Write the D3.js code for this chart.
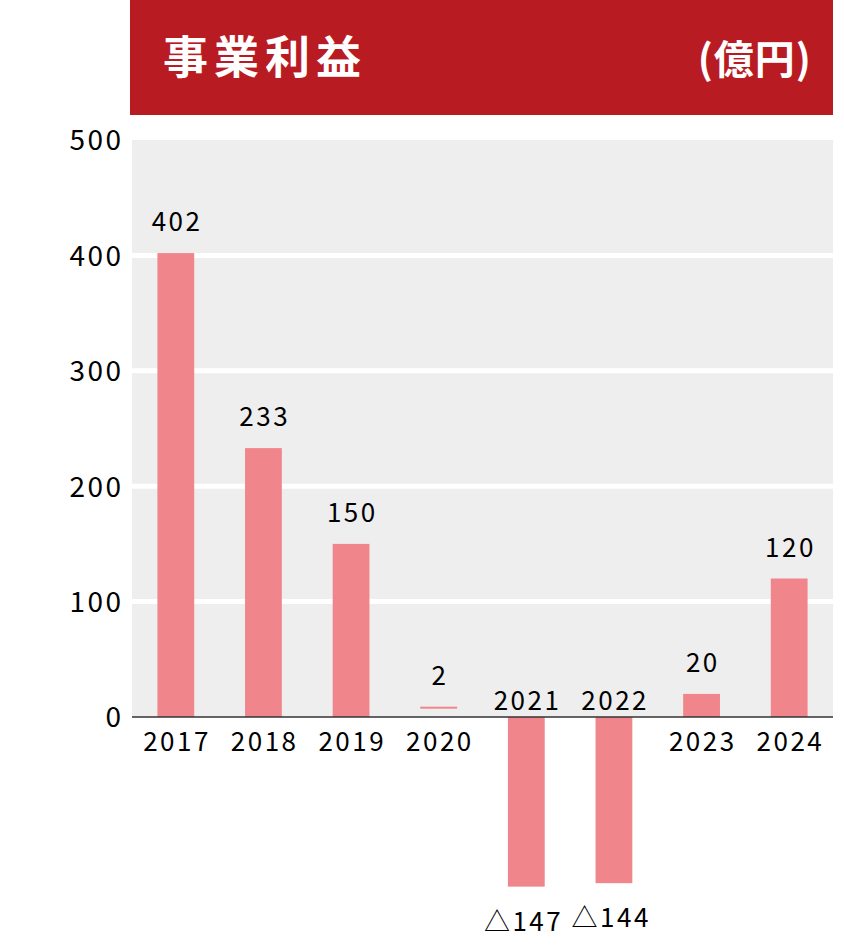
<!DOCTYPE html>
<html><head><meta charset="utf-8">
<script src="https://cdn.jsdelivr.net/npm/d3@7"></script>
<style>
html,body{margin:0;padding:0;background:#fff;}
text{font-family:"Noto Sans CJK JP","Noto Sans",sans-serif;}
</style></head>
<body>
<svg id="chart" width="844" height="950"></svg>
<script>
const title = "事業利益";
const unit = "(億円)";
const years = ["2017","2018","2019","2020","2021","2022","2023","2024"];
const values = [402, 233, 150, 2, -147, -144, 20, 120];
const yTicks = [0, 100, 200, 300, 400, 500];

const svg = d3.select("#chart");
const left = 132, right = 833, zeroY = 717, topY = 140;
const barColor = "#f0868c";
const ls = 2.5; // letter spacing for numbers

// header
svg.append("rect").attr("x", 130).attr("y", 0).attr("width", right - 130).attr("height", 115).attr("fill", "#b81c22");
svg.append("text").attr("x", 163).attr("y", 74).attr("fill", "#fff")
  .attr("font-size", 45).attr("font-weight", 700).attr("letter-spacing", 6).text(title);
svg.append("text").attr("x", 812).attr("y", 74).attr("fill", "#fff").attr("text-anchor", "end")
  .attr("font-size", 40).attr("font-weight", 700).attr("letter-spacing", 1).text(unit);

const x = d3.scaleBand().domain(years).range([left, right]).paddingInner(0.58).paddingOuter(0.29);
const y = d3.scaleLinear().domain([0, 500]).range([zeroY, topY]);

// plot background (positive area)
svg.append("rect").attr("x", left).attr("y", y(500)).attr("width", right - left)
  .attr("height", y(0) - y(500)).attr("fill", "#eeeeee");

// gridlines
svg.selectAll(".grid").data(yTicks.filter(t => t > 0 && t < 500)).enter().append("line")
  .attr("x1", left).attr("x2", right).attr("y1", d => y(d)).attr("y2", d => y(d))
  .attr("stroke", "#fff").attr("stroke-width", 5);

// y axis
const yAxis = d3.axisLeft(y).tickValues(yTicks).tickSize(0).tickPadding(0);
const ga = svg.append("g").attr("transform", `translate(${121 + ls},0)`).call(yAxis);
ga.select(".domain").remove();
ga.selectAll("text").attr("font-size", 28).attr("fill", "#000").attr("dy", "0.35em")
  .attr("letter-spacing", ls)
  .style("font-family", '"Noto Sans CJK JP","Noto Sans",sans-serif');

// bars
const small = v => Math.abs(v) < 5;
svg.selectAll(".bar").data(values.map((v, i) => ({v, yr: years[i]}))).enter().append("rect")
  .attr("x", d => x(d.yr))
  .attr("width", x.bandwidth())
  .attr("y", d => small(d.v) ? y(d.v) - 8 : (d.v >= 0 ? y(d.v) : y(0)))
  .attr("height", d => small(d.v) ? 2 : Math.abs(y(d.v) - y(0)))
  .attr("fill", barColor);

// zero line
svg.append("line").attr("x1", left).attr("x2", right).attr("y1", y(0)).attr("y2", y(0))
  .attr("stroke", "#333").attr("stroke-width", 1.5);

// year labels
svg.selectAll(".yr").data(years).enter().append("text")
  .attr("x", d => x(d) + x.bandwidth() / 2 + ls / 2)
  .attr("y", (d, i) => values[i] >= 0 ? y(0) + 34 : y(0) - 7)
  .attr("text-anchor", "middle").attr("font-size", 26).attr("letter-spacing", ls)
  .attr("fill", "#000").text(d => d);

// value labels
svg.selectAll(".val").data(values).enter().append("text")
  .attr("x", (d, i) => x(years[i]) + x.bandwidth() / 2 + ls / 2 - (d < 0 ? 4 : 0))
  .attr("y", d => d >= 0 ? (small(d) ? y(d) - 8 : y(d)) - 22 : y(d) + 44)
  .attr("text-anchor", "middle").attr("font-size", 26).attr("letter-spacing", ls)
  .attr("fill", "#000")
  .text(d => d >= 0 ? d3.format("d")(d) : "△" + Math.abs(d));
</script>
</body></html>
